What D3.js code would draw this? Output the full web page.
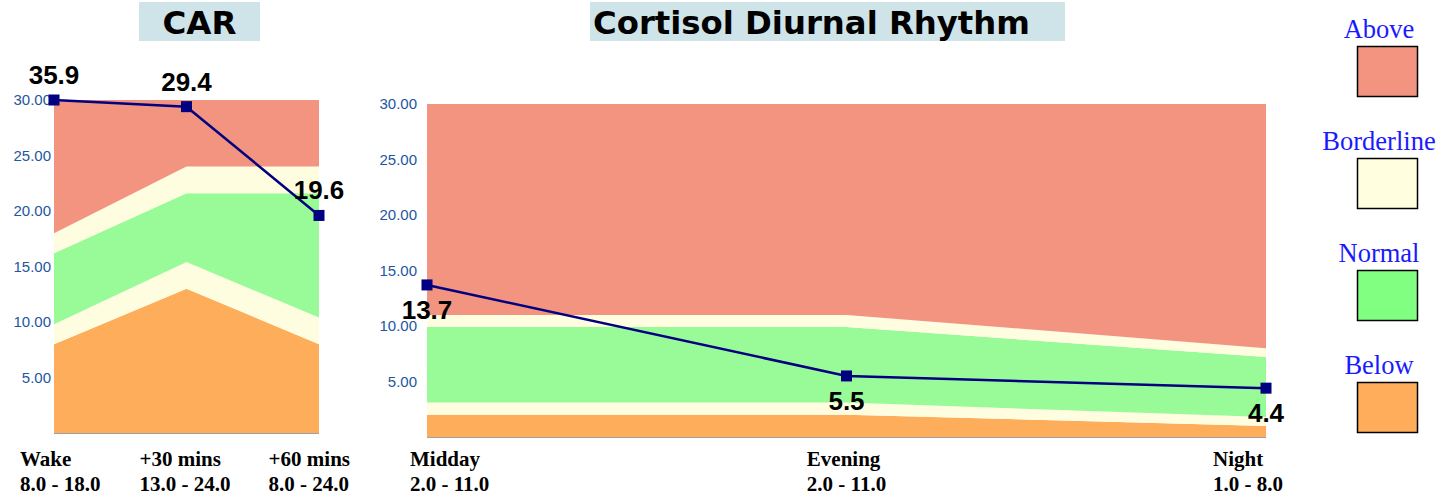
<!DOCTYPE html>
<html>
<head>
<meta charset="utf-8">
<script src="https://cdn.jsdelivr.net/npm/d3@7"></script>
<style>
  body { margin: 0; background: #fff; }
  svg { display: block; }
</style>
</head>
<body>
<svg id="chart"></svg>
<script>
// ---- data ----
const yTicks = [5, 10, 15, 20, 25, 30];
const yMax = 30;

const carLabels = ["Wake", "+30 mins", "+60 mins"];
const carRanges = ["8.0 - 18.0", "13.0 - 24.0", "8.0 - 24.0"];
const carValues = [35.9, 29.4, 19.6];
const carBelowTop = [8.0, 13.0, 8.0];
const carLowBorderTop = [9.8, 15.4, 10.4];
const carNormalTop = [16.2, 21.6, 21.6];
const carHighBorderTop = [18.0, 24.0, 24.0];

const diurnalLabels = ["Midday", "Evening", "Night"];
const diurnalRanges = ["2.0 - 11.0", "2.0 - 11.0", "1.0 - 8.0"];
const diurnalValues = [13.7, 5.5, 4.4];
const diurnalBelowTop = [2.0, 2.0, 1.0];
const diurnalLowBorderTop = [3.1, 3.1, 1.8];
const diurnalNormalTop = [9.9, 9.9, 7.2];
const diurnalHighBorderTop = [11.0, 11.0, 8.0];

const legendLabels = ["Above", "Borderline", "Normal", "Below"];
const legendColors = ["#f29480", "#ffffe0", "#80ff80", "#ffad5a"];
const bandColors = { above: "#f29480", border: "#fefde0", normal: "#98fb98", below: "#fead5b" };

const width = 1449, height = 499;
const svg = d3.select("#chart").attr("width", width).attr("height", height);

/***
 * draws one panel: bands, line, markers, value labels, axes
 */
function drawPanel(p) {
  const x = d3.scalePoint().domain(p.labels).range([p.left, p.right]).padding(0);
  const y = d3.scaleLinear().domain([0, yMax]).range([p.bottom, p.top]).clamp(true);

  const rows = p.labels.map((l, i) => ({
    label: l, value: p.values[i],
    b0: p.below[i], b1: p.lowBorder[i], b2: p.normalTop[i], b3: p.highBorder[i]
  }));

  const band = (lo, hi, color) => {
    const area = d3.area()
      .x(d => x(d.label))
      .y0(d => y(lo(d)))
      .y1(d => y(hi(d)));
    svg.append("path").attr("d", area(rows)).attr("fill", color);
  };
  band(d => 0, d => d.b0, bandColors.below);
  band(d => d.b0, d => d.b1, bandColors.border);
  band(d => d.b1, d => d.b2, bandColors.normal);
  band(d => d.b2, d => d.b3, bandColors.border);
  band(d => d.b3, d => yMax, bandColors.above);

  // x axis line
  svg.append("line")
    .attr("x1", p.left).attr("x2", p.right)
    .attr("y1", p.bottom + 0.5).attr("y2", p.bottom + 0.5)
    .attr("stroke", "#a0a0a0").attr("stroke-width", 1);

  // y tick labels
  svg.append("g").selectAll("text")
    .data(yTicks).enter().append("text")
    .attr("x", p.tickX)
    .attr("y", d => y(d))
    .attr("dy", "0.35em")
    .attr("text-anchor", "end")
    .attr("font-family", "Liberation Sans, Arial, sans-serif")
    .attr("font-size", 15)
    .attr("fill", "#2456a0")
    .text(d => d.toFixed(2));

  // value line
  const line = d3.line().x(d => x(d.label)).y(d => y(d.value));
  svg.append("path").attr("d", line(rows))
    .attr("fill", "none").attr("stroke", "#000080").attr("stroke-width", 2.5);

  const m = 11;
  svg.append("g").selectAll("rect")
    .data(rows).enter().append("rect")
    .attr("x", d => x(d.label) - m / 2)
    .attr("y", d => y(d.value) - m / 2)
    .attr("width", m).attr("height", m)
    .attr("fill", "#000080");

  svg.append("g").selectAll("text")
    .data(rows).enter().append("text")
    .attr("x", d => x(d.label))
    .attr("y", d => y(d.value) + p.labelDy)
    .attr("text-anchor", "middle")
    .attr("font-family", "Liberation Sans, Arial, sans-serif")
    .attr("font-weight", "bold")
    .attr("font-size", 26)
    .attr("fill", "#000")
    .text(d => d.value.toFixed(1));

  // category labels: first block left, middle centred, last right
  const n = p.labels.length;
  p.labels.forEach((l, i) => {
    const g = svg.append("g");
    const t1 = g.append("text").attr("y", 466).text(l);
    const t2 = g.append("text").attr("y", 491).text(p.ranges[i]);
    g.selectAll("text")
      .attr("font-family", "Liberation Serif, Times New Roman, serif")
      .attr("font-weight", "bold")
      .attr("font-size", 21)
      .attr("fill", "#000");
    const w = Math.max(t1.node().getComputedTextLength(), t2.node().getComputedTextLength());
    let bx;
    if (i === 0) bx = p.labelLeft;
    else if (i === n - 1) bx = p.labelRight - w;
    else bx = (p.labelLeft + p.labelRight) / 2 - w / 2;
    g.selectAll("text").attr("x", bx);
  });

  // title
  svg.append("rect")
    .attr("x", p.titleBox[0]).attr("y", 2)
    .attr("width", p.titleBox[1] - p.titleBox[0]).attr("height", 39)
    .attr("fill", "#cfe4e8");
  svg.append("text")
    .attr("x", p.titleX).attr("y", 34)
    .attr("text-anchor", p.titleAnchor)
    .attr("font-family", "DejaVu Sans, Verdana, sans-serif")
    .attr("font-weight", "bold")
    .attr("font-size", p.titleSize)
    .attr("fill", "#000")
    .text(p.title);
}

drawPanel({
  title: "CAR", titleBox: [139, 260], titleX: 199.5, titleAnchor: "middle", titleSize: 32.5,
  labels: carLabels, ranges: carRanges, values: carValues,
  below: carBelowTop, lowBorder: carLowBorderTop, normalTop: carNormalTop, highBorder: carHighBorderTop,
  left: 54, right: 319, top: 100, bottom: 433, tickX: 51, labelDy: -16,
  labelLeft: 20, labelRight: 350
});

drawPanel({
  title: "Cortisol Diurnal Rhythm", titleBox: [590, 1065], titleX: 593, titleAnchor: "start", titleSize: 32.3,
  labels: diurnalLabels, ranges: diurnalRanges, values: diurnalValues,
  below: diurnalBelowTop, lowBorder: diurnalLowBorderTop, normalTop: diurnalNormalTop, highBorder: diurnalHighBorderTop,
  left: 427, right: 1266, top: 104, bottom: 437, tickX: 417, labelDy: 34,
  labelLeft: 410, labelRight: 1283
});

// legend
const legend = svg.append("g").selectAll("g")
  .data(legendLabels).enter().append("g")
  .attr("transform", (d, i) => "translate(0," + (i * 112) + ")");
legend.append("text")
  .attr("x", 1379).attr("y", 38)
  .attr("text-anchor", "middle")
  .attr("font-family", "Liberation Serif, Times New Roman, serif")
  .attr("font-size", 26.5)
  .attr("fill", "#1a1aff")
  .text(d => d);
legend.append("rect")
  .attr("x", 1357.5).attr("y", 46.5)
  .attr("width", 60).attr("height", 50)
  .attr("fill", (d, i) => legendColors[i])
  .attr("stroke", "#000").attr("stroke-width", 1.5);
</script>
</body>
</html>
